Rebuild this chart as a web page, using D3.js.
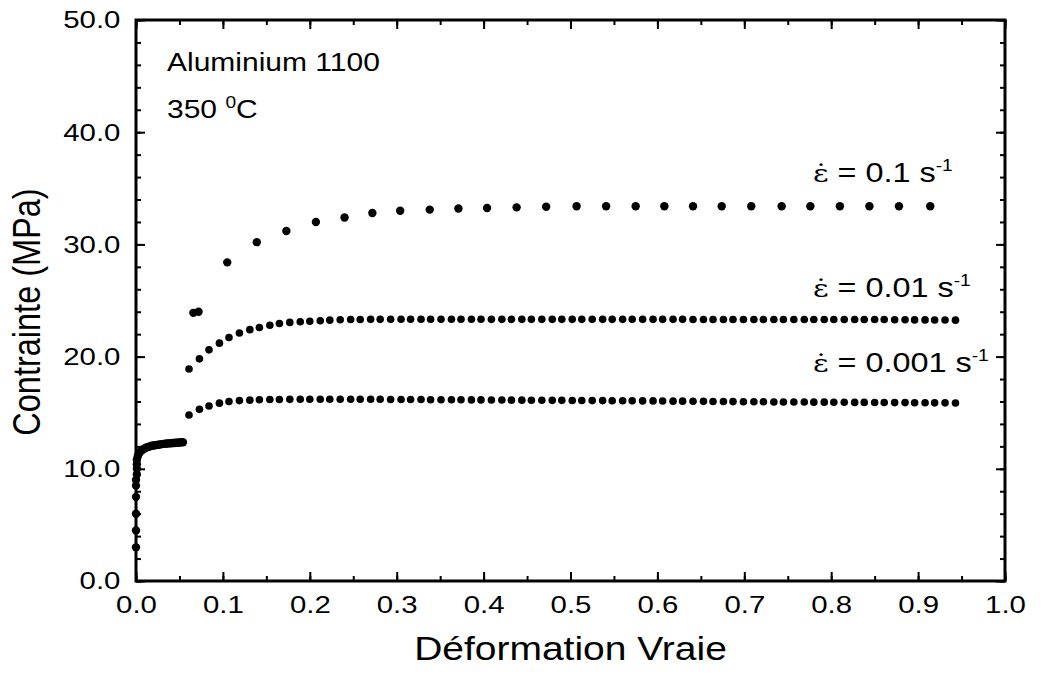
<!DOCTYPE html>
<html>
<head>
<meta charset="utf-8">
<script src="https://cdn.jsdelivr.net/npm/d3@7"></script>
<style>
  html, body { margin: 0; padding: 0; background: #fff; }
  svg text { font-family: "Liberation Sans", Arial, sans-serif; fill: #000; }
</style>
</head>
<body>
<svg id="chart" width="1043" height="688"></svg>
<script>
// Loading segment (elastic rise and early hardening)
const loadStrain = [0.000, 0.000, 0.000, 0.000, 0.000, 0.000, 0.001, 0.001, 0.001, 0.001,
  0.002, 0.003, 0.004, 0.006, 0.008, 0.010, 0.012, 0.014, 0.016, 0.018,
  0.020, 0.022, 0.024, 0.026, 0.028, 0.030, 0.032, 0.034, 0.036, 0.038,
  0.040, 0.042, 0.044, 0.046, 0.048, 0.050, 0.052, 0.054];
const loadStress = [3.0, 4.5, 6.0, 7.5, 8.5, 9.0, 9.5, 10.0, 10.4, 10.8,
  11.1, 11.3, 11.45, 11.6, 11.72, 11.82, 11.9, 11.95, 12.0, 12.05,
  12.08, 12.1, 12.13, 12.15, 12.18, 12.2, 12.22, 12.24, 12.25, 12.27,
  12.28, 12.3, 12.3, 12.32, 12.33, 12.35, 12.36, 12.37];

// Strain rate 0.1 s^-1
const strain01 = [0.066, 0.072, 0.105, 0.139, 0.173, 0.207, 0.240, 0.272, 0.304, 0.338,
  0.371, 0.404, 0.438, 0.472, 0.507, 0.541, 0.575, 0.608, 0.641, 0.674,
  0.708, 0.743, 0.776, 0.810, 0.844, 0.878, 0.914];
const stress01 = [23.9, 24.0, 28.4, 30.2, 31.2, 32.0, 32.4, 32.8, 33.0, 33.1,
  33.2, 33.25, 33.3, 33.35, 33.4, 33.4, 33.4, 33.4, 33.4, 33.4,
  33.4, 33.4, 33.4, 33.4, 33.4, 33.4, 33.4];

// Strain samples shared by the 0.01 and 0.001 s^-1 tests
const strainDense = [0.061, 0.073, 0.084, 0.096, 0.107, 0.119, 0.131, 0.142, 0.154, 0.165,
  0.177, 0.189, 0.200, 0.212, 0.223, 0.235, 0.247, 0.258, 0.270, 0.281,
  0.293, 0.305, 0.316, 0.328, 0.339, 0.351, 0.363, 0.374, 0.386, 0.397,
  0.409, 0.421, 0.432, 0.444, 0.455, 0.467, 0.479, 0.490, 0.502, 0.513,
  0.525, 0.537, 0.548, 0.560, 0.571, 0.583, 0.595, 0.606, 0.618, 0.629,
  0.641, 0.653, 0.664, 0.676, 0.687, 0.699, 0.711, 0.722, 0.734, 0.745,
  0.757, 0.769, 0.780, 0.792, 0.803, 0.815, 0.827, 0.838, 0.850, 0.861,
  0.873, 0.885, 0.896, 0.908, 0.919, 0.931, 0.943];

// Strain rate 0.01 s^-1
const stress001 = [18.9, 19.8, 20.6, 21.2, 21.7, 22.1, 22.4, 22.6, 22.8, 22.95,
  23.05, 23.1, 23.15, 23.2, 23.25, 23.28, 23.3, 23.3, 23.32, 23.32,
  23.33, 23.33, 23.33, 23.33, 23.33, 23.33, 23.33, 23.33, 23.33, 23.33,
  23.32, 23.32, 23.32, 23.32, 23.32, 23.32, 23.32, 23.32, 23.32, 23.32,
  23.32, 23.32, 23.32, 23.32, 23.32, 23.32, 23.32, 23.32, 23.32, 23.32,
  23.3, 23.3, 23.3, 23.3, 23.3, 23.3, 23.3, 23.3, 23.3, 23.3,
  23.3, 23.3, 23.3, 23.3, 23.3, 23.3, 23.3, 23.3, 23.3, 23.3,
  23.28, 23.28, 23.27, 23.27, 23.26, 23.26, 23.25];

// Strain rate 0.001 s^-1
const stress0001 = [14.8, 15.3, 15.6, 15.85, 16.0, 16.08, 16.12, 16.15, 16.17, 16.18,
  16.19, 16.2, 16.2, 16.2, 16.2, 16.2, 16.2, 16.2, 16.2, 16.2,
  16.18, 16.18, 16.17, 16.17, 16.16, 16.16, 16.15, 16.15, 16.14, 16.14,
  16.13, 16.13, 16.12, 16.12, 16.11, 16.11, 16.1, 16.1, 16.09, 16.09,
  16.08, 16.08, 16.07, 16.07, 16.06, 16.05, 16.05, 16.04, 16.03, 16.03,
  16.02, 16.01, 16.0, 16.0, 15.99, 15.98, 15.98, 15.97, 15.96, 15.96,
  15.95, 15.95, 15.94, 15.94, 15.93, 15.93, 15.92, 15.92, 15.91, 15.91,
  15.9, 15.9, 15.89, 15.89, 15.88, 15.88, 15.87];

const xTicks = [0, 0.1, 0.2, 0.3, 0.4, 0.5, 0.6, 0.7, 0.8, 0.9, 1.0];
const yTicks = [0, 10, 20, 30, 40, 50];
const rateLabels = ["0.1", "0.01", "0.001"];

const svg = d3.select("#chart");
const margin = { left: 136, right: 38, top: 20, bottom: 107 };
const W = 1043, H = 688;

const x = d3.scaleLinear().domain([0, 1]).range([margin.left, W - margin.right]);
const y = d3.scaleLinear().domain([0, 50]).range([H - margin.bottom, margin.top]);

// Lettering is set a little wide
const stretch = 1.2;
const tickFont = 24.5;
const titleFont = 32.5;
const noteFont = 25;

// Frame
svg.append("rect")
  .attr("x", x(0)).attr("y", y(50))
  .attr("width", x(1) - x(0)).attr("height", y(0) - y(50))
  .attr("fill", "none").attr("stroke", "#000").attr("stroke-width", 3);

// Inward ticks on all four sides
function tickAxis(axisGen, translate) {
  const g = svg.append("g").attr("transform", translate).call(axisGen);
  g.select(".domain").remove();
  g.selectAll(".tick line").attr("stroke", "#000").attr("stroke-width", 2);
  return g;
}
const xMinor = d3.range(0, 21).map(i => i * 0.05);
const yMinor = d3.range(0, 26).map(i => i * 2);

tickAxis(d3.axisBottom(x).tickValues(xMinor).tickSize(-5).tickFormat(""), `translate(0,${y(0)})`);
tickAxis(d3.axisTop(x).tickValues(xMinor).tickSize(-5).tickFormat(""), `translate(0,${y(50)})`);
tickAxis(d3.axisLeft(y).tickValues(yMinor).tickSize(-5).tickFormat(""), `translate(${x(0)},0)`);
tickAxis(d3.axisRight(y).tickValues(yMinor).tickSize(-5).tickFormat(""), `translate(${x(1)},0)`);

const xb = tickAxis(d3.axisBottom(x).tickValues(xTicks).tickSize(-9).tickPadding(15).tickFormat(d3.format(".1f")), `translate(0,${y(0)})`);
tickAxis(d3.axisTop(x).tickValues(xTicks).tickSize(-9).tickFormat(""), `translate(0,${y(50)})`);
const yl = tickAxis(d3.axisLeft(y).tickValues(yTicks).tickSize(-9).tickPadding(13).tickFormat(d3.format(".1f")), `translate(${x(0)},0)`);
tickAxis(d3.axisRight(y).tickValues(yTicks).tickSize(-9).tickFormat(""), `translate(${x(1)},0)`);

[xb, yl].forEach(g => g.selectAll(".tick text")
  .attr("font-size", tickFont)
  .attr("font-family", "Liberation Sans, Arial, sans-serif")
  .attr("fill", "#000")
  .attr("transform", `scale(${stretch},1)`));

// Axis titles
svg.append("text")
  .attr("transform", `translate(${(x(0) + x(1)) / 2},660) scale(${stretch},1)`)
  .attr("text-anchor", "middle").attr("font-size", titleFont)
  .text("Déformation Vraie");
svg.append("text")
  .attr("transform", `translate(40,312) scale(${stretch},1) rotate(-90)`)
  .attr("text-anchor", "middle").attr("font-size", titleFont)
  .text("Contrainte (MPa)");

// Material / temperature notes
svg.append("text")
  .attr("transform", `translate(167,71) scale(${stretch},1)`)
  .attr("font-size", noteFont).text("Aluminium 1100");
const temp = svg.append("text")
  .attr("transform", `translate(167,118) scale(${stretch},1)`)
  .attr("font-size", noteFont);
temp.append("tspan").text("350 ");
temp.append("tspan").attr("font-size", 16).attr("dy", -10).text("0");
temp.append("tspan").attr("dy", 10).text("C");

// Data markers
function dots(xs, ys, r) {
  svg.append("g").selectAll("circle")
    .data(xs.map((v, i) => [v, ys[i]]))
    .join("circle")
    .attr("cx", d => x(d[0])).attr("cy", d => y(d[1]))
    .attr("r", r).attr("fill", "#000");
}
dots(loadStrain, loadStress, 4.2);
dots(strain01, stress01, 4.2);
dots(strainDense, stress001, 3.8);
dots(strainDense, stress0001, 3.8);

// Strain-rate annotations
const labelY = [182, 297, 372];
rateLabels.forEach((rate, i) => {
  const t = svg.append("text")
    .attr("transform", `translate(813,${labelY[i]}) scale(${stretch},1)`)
    .attr("font-size", 27);
  t.append("tspan").attr("font-family", "DejaVu Serif, serif").attr("font-size", 25).text("\u03B5\u0307");
  t.append("tspan").text(" = " + rate + " s");
  t.append("tspan").attr("font-size", 16).attr("dy", -11).text("-1");
});
</script>
</body>
</html>
